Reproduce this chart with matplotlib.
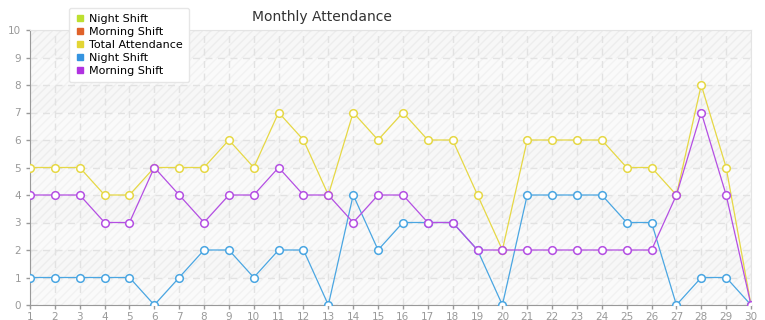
import matplotlib
matplotlib.use('Agg')

import numpy as np
from matplotlib import pyplot as plt
from matplotlib.lines import Line2D

days = list(range(1, 31))
total = [5, 5, 5, 4, 4, 5, 5, 5, 6, 5, 7, 6, 4, 7, 6, 7, 6, 6, 4, 2, 6, 6, 6, 6, 5, 5, 4, 8, 5, 0]
night = [1, 1, 1, 1, 1, 0, 1, 2, 2, 1, 2, 2, 0, 4, 2, 3, 3, 3, 2, 0, 4, 4, 4, 4, 3, 3, 0, 1, 1, 0]
morning = [4, 4, 4, 3, 3, 5, 4, 3, 4, 4, 5, 4, 4, 3, 4, 4, 3, 3, 2, 2, 2, 2, 2, 2, 2, 2, 4, 7, 4, 0]

legend_names = ['Night Shift', 'Morning Shift', 'Total Attendance', 'Night Shift', 'Morning Shift']
legend_colors = ['#bde030', '#e0622a', '#e3d534', '#3594e0', '#b032e0']

fig = plt.figure(figsize=(7.65, 3.2), dpi=100)
ax = fig.add_axes([30 / 765, 15 / 320, 721 / 765, 275 / 320])

# background bands, alternate ones hatched
for i in range(10):
    if i % 2 == 1:
        ax.axhspan(i, i + 1, facecolor='#f7f7f7', edgecolor='#ededed', hatch='////', linewidth=0, zorder=0)
    else:
        ax.axhspan(i, i + 1, facecolor='#fafafa', edgecolor='#f2f2f2', hatch='////', linewidth=0, zorder=0)

ax.grid(True, color='#e2e2e2', linestyle=(0, (5, 4)), linewidth=1, zorder=1)

mk = dict(marker='o', markersize=5.5, markerfacecolor='white', markeredgewidth=1.1, linewidth=0.9, zorder=3)
ax.plot(days, total, color='#e6d845', markeredgecolor='#e6d845', **mk)
ax.plot(days, night, color='#4aa6e2', markeredgecolor='#4aa6e2', **mk)
ax.plot(days, morning, color='#b44fe3', markeredgecolor='#b44fe3', **mk)

ax.set_xlim(1, 30)
ax.set_ylim(0, 10)
ax.set_xticks(days)
ax.set_yticks(range(0, 11))
ax.tick_params(colors='#999999', labelsize=7.5, length=3, width=1)
ax.tick_params(axis='x', pad=2)
for s in ['left', 'bottom']:
    ax.spines[s].set_color('#999999')
for s in ['top', 'right']:
    ax.spines[s].set_color('#e4e4e4')

fig.text(322 / 765, 1 - 17 / 320, 'Monthly Attendance', ha='center', va='center', fontsize=10, color='#333333')

handles = [Line2D([], [], linestyle='none', marker='s', markersize=4.5, color=c) for c in legend_colors]
leg = fig.legend(handles, legend_names, loc='upper left', bbox_to_anchor=(63 / 765, 1 - 2 / 320),
                 fontsize=8, frameon=True, fancybox=True, shadow=False, handletextpad=0.3,
                 labelspacing=0.28, borderpad=0.55, handlelength=1.0)
leg.get_frame().set_edgecolor('#e6e6e6')
leg.get_frame().set_facecolor('white')
leg.get_frame().set_alpha(1)
leg.set_zorder(10)

plt.savefig('out.png', dpi=100)
